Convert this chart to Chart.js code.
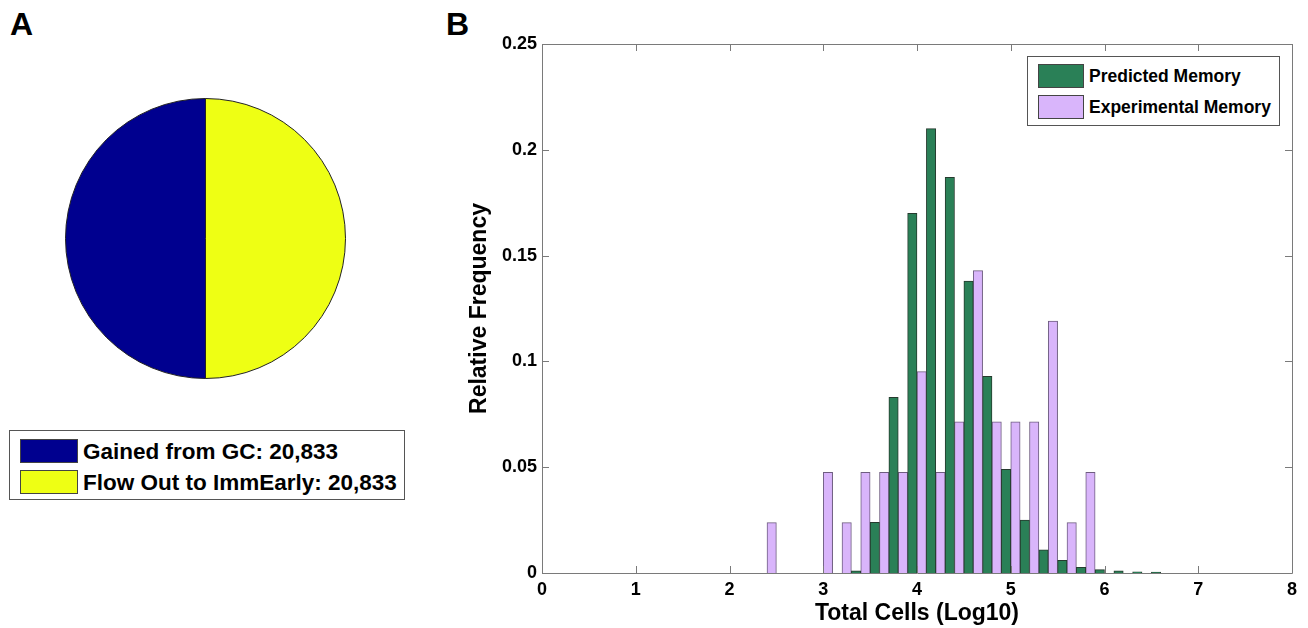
<!DOCTYPE html>
<html>
<head>
<meta charset="utf-8">
<script src="https://cdn.jsdelivr.net/npm/chart.js@4.4.1/dist/chart.umd.min.js"></script>
<style>
  body { margin: 0; width: 1308px; height: 628px; background: #fff; position: relative; overflow: hidden;
         font-family: "Liberation Sans", Arial, sans-serif; font-weight: bold; color: #000; }
  .panel { position: absolute; font-size: 32px; line-height: 1; }
  #pieBox { position: absolute; left: 65px; top: 98px; width: 281px; height: 281px; }
  #barBox { position: absolute; left: 440px; top: 0; width: 868px; height: 628px; }
  .legend { position: absolute; border: 1px solid #555; background: #fff; box-sizing: border-box; }
  .legend .sw { position: absolute; border: 1px solid #444; box-sizing: border-box; }
  .legend .lbl { position: absolute; white-space: nowrap; }
</style>
</head>
<body>
<div class="panel" style="left:10px; top:8px;">A</div>
<div class="panel" style="left:446px; top:8px;">B</div>

<div id="pieBox"><canvas id="pieChart"></canvas></div>
<div class="legend" id="pieLegend" style="left:9px; top:430px; width:396px; height:70px;"></div>

<div id="barBox"><canvas id="histChart"></canvas></div>
<div class="legend" id="histLegend" style="left:1027px; top:56px; width:253px; height:70px;"></div>

<script>
// panel A: pie
const pieLabels = ['Gained from GC', 'Flow Out to ImmEarly'];
const pieValues = [20833, 20833];
const pieColors = ['#00008f', '#eeff14'];

// panel B: histogram (bin centres in log10 cells)
const binCenters = [2.4, 2.6, 2.8, 3.0, 3.2, 3.4, 3.6, 3.8, 4.0, 4.2, 4.4,
                    4.6, 4.8, 5.0, 5.2, 5.4, 5.6, 5.8, 6.0, 6.2, 6.4, 6.6];
const predictedMemory = [0, 0, 0, 0, 0, 0.001, 0.024, 0.083, 0.170, 0.210, 0.187,
                         0.138, 0.093, 0.049, 0.025, 0.011, 0.006, 0.0027, 0.0016, 0.001, 0.0006, 0.0004];
const experimentalMemory = [0.0238, 0, 0, 0.0476, 0.0238, 0.0476, 0.0476, 0.0476, 0.0952, 0.0476, 0.0714,
                            0.1429, 0.0714, 0.0714, 0.0714, 0.119, 0.0238, 0.0476, 0, 0, 0, 0];
const seriesNames = ['Predicted Memory', 'Experimental Memory'];
const seriesColors = ['#2a8057', '#d9b5fb'];
const seriesEdges = ['#263a2e', '#6e5d80'];
const xTicks = [0, 1, 2, 3, 4, 5, 6, 7, 8];
const yTicks = [0, 0.05, 0.1, 0.15, 0.2, 0.25];

const FONT = '"Liberation Sans", Arial, sans-serif';

// HTML legends
const addLegend = (box, names, colors, sw, textLeft, fontSize) => {
    names.forEach((name, i) => {
        const top = sw.top + i * sw.gap;
        const s = document.createElement('div');
        s.className = 'sw';
        s.style.cssText = `left:${sw.left}px; top:${top}px; width:${sw.w}px; height:${sw.h}px; background:${colors[i]};`;
        box.appendChild(s);
        const t = document.createElement('div');
        t.className = 'lbl';
        t.style.cssText = `left:${textLeft}px; top:${top}px; height:${sw.h}px; line-height:${sw.h + 1}px; font-size:${fontSize}px;`;
        t.innerText = name;
        box.appendChild(t);
    });
};

addLegend(document.getElementById('pieLegend'),
    pieLabels.map((l, i) => `${l}: ${pieValues[i].toLocaleString('en-US')}`),
    pieColors, { left: 10, top: 8, gap: 31, w: 58, h: 24 }, 73, 22.5);
addLegend(document.getElementById('histLegend'), seriesNames, seriesColors,
    { left: 10, top: 7, gap: 31, w: 46, h: 24 }, 61, 17.5);

Chart.defaults.font.family = FONT;
Chart.defaults.color = '#000';

new Chart(document.getElementById('pieChart'), {
    type: 'pie',
    data: {
        labels: pieLabels,
        datasets: [{ data: pieValues, backgroundColor: pieColors, borderColor: '#222', borderWidth: 1 }]
    },
    options: {
        responsive: true,
        maintainAspectRatio: false,
        animation: false,
        rotation: 180,
        layout: { padding: 0 },
        plugins: { legend: { display: false }, tooltip: { enabled: false } }
    }
});

// axes box with inward ticks on all four sides
const matlabBox = {
    id: 'matlabBox',
    afterDatasetsDraw(chart) {
        const { ctx, chartArea: a, scales: { x, y } } = chart;
        ctx.save();
        ctx.strokeStyle = '#7a7a7a';
        ctx.lineWidth = 1;
        ctx.beginPath();
        ctx.rect(Math.round(a.left) + 0.5, Math.round(a.top) + 0.5, Math.round(a.width), Math.round(a.height));
        x.ticks.forEach(t => {
            const px = Math.round(x.getPixelForValue(t.value)) + 0.5;
            ctx.moveTo(px, a.bottom); ctx.lineTo(px, a.bottom - 7);
            ctx.moveTo(px, a.top); ctx.lineTo(px, a.top + 7);
        });
        y.ticks.forEach(t => {
            const py = Math.round(y.getPixelForValue(t.value)) + 0.5;
            ctx.moveTo(a.left, py); ctx.lineTo(a.left + 7, py);
            ctx.moveTo(a.right, py); ctx.lineTo(a.right - 7, py);
        });
        ctx.stroke();
        ctx.restore();
    }
};

const makeSeries = (vals, i) => ({
    label: seriesNames[i],
    data: binCenters.map((c, k) => ({ x: c, y: vals[k] })),
    backgroundColor: seriesColors[i],
    borderColor: seriesEdges[i],
    borderWidth: 1,
    categoryPercentage: 1,
    barPercentage: 1
});

new Chart(document.getElementById('histChart'), {
    type: 'bar',
    data: { datasets: [makeSeries(predictedMemory, 0), makeSeries(experimentalMemory, 1)] },
    options: {
        responsive: true,
        maintainAspectRatio: false,
        animation: false,
        layout: { padding: { top: 44, right: 16, left: 0, bottom: 0 } },
        plugins: { legend: { display: false }, tooltip: { enabled: false } },
        scales: {
            x: {
                type: 'linear', min: 0, max: 8, offset: false,
                afterBuildTicks: s => { s.ticks = xTicks.map(v => ({ value: v })); },
                afterFit: s => { s.height = 55; },
                grid: { display: false, drawTicks: false },
                border: { display: false },
                ticks: { padding: 6, font: { size: 18, weight: 'bold' }, callback: v => String(v) },
                title: { display: true, text: 'Total Cells (Log10)', font: { size: 23, weight: 'bold' },
                         padding: { top: 0, bottom: 1 } }
            },
            y: {
                min: 0, max: 0.25,
                afterBuildTicks: s => { s.ticks = yTicks.map(v => ({ value: v })); },
                afterFit: s => { s.width = 102; },
                grid: { display: false, drawTicks: false },
                border: { display: false },
                ticks: { padding: 5, font: { size: 18, weight: 'bold' }, callback: v => String(+v.toFixed(2)) },
                title: { display: true, text: 'Relative Frequency', font: { size: 23, weight: 'bold' },
                         padding: { top: 26, bottom: 0 } }
            }
        }
    },
    plugins: [matlabBox]
});
</script>
</body>
</html>
